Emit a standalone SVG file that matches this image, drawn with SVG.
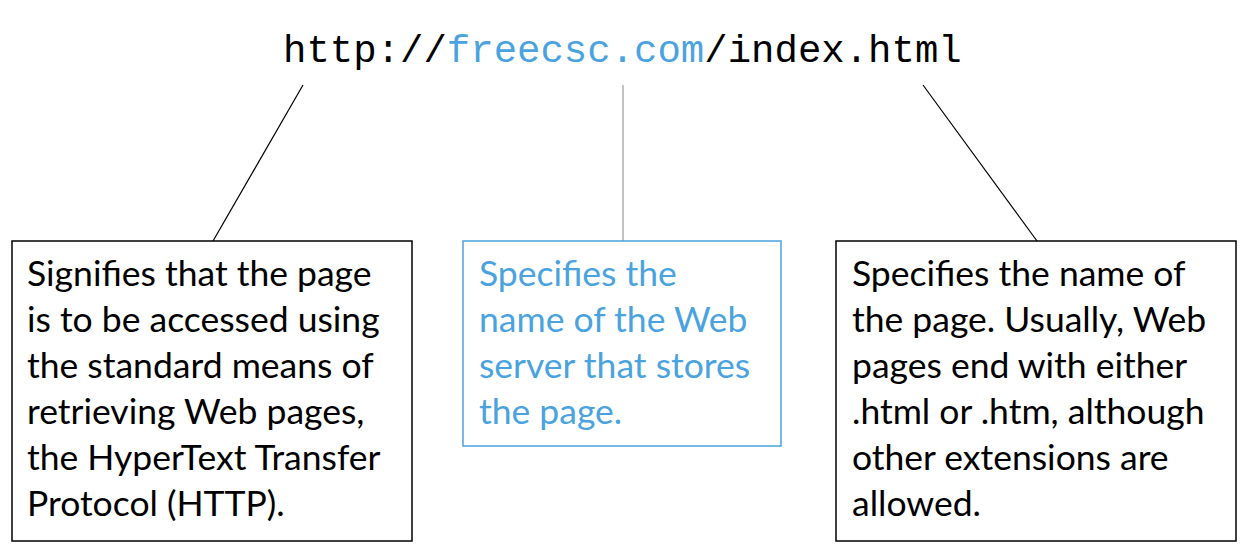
<svg xmlns="http://www.w3.org/2000/svg" width="1250" height="550" viewBox="0 0 1250 550">
<style>
.t{font-family:Lato,"Liberation Sans",sans-serif;font-size:35.5px;fill:#000}
.b{fill:#4AA3DF}
.box{fill:#fff;stroke:#000;stroke-width:1.5}
.url{font-family:"Liberation Mono",monospace;font-size:39px;fill:#000}
</style>
<rect width="1250" height="550" fill="#fff"/>
<g id="url"><text class="url" x="283" y="62">http://<tspan class="b">freecsc.com</tspan>/index.html</text></g>
<g id="connectors" stroke-width="1.2">
<line x1="303" y1="85" x2="213" y2="241" stroke="#000"/>
<line x1="623" y1="85" x2="623" y2="241" stroke="#999"/>
<line x1="923" y1="85" x2="1037" y2="241" stroke="#000"/>
</g>
<g id="protocol"><rect class="box" x="12" y="241" width="400" height="300"/>
<text class="t" x="27"><tspan x="27" y="286">Signifies that the page</tspan><tspan x="27" y="332">is to be accessed using</tspan><tspan x="27" y="378">the standard means of</tspan><tspan x="27" y="424">retrieving Web pages,</tspan><tspan x="27" y="470">the HyperText Transfer</tspan><tspan x="27" y="516">Protocol (HTTP).</tspan></text></g>
<g id="server"><rect class="box" x="463" y="241" width="318" height="205" style="stroke:#4AA3DF"/>
<text class="t b"><tspan x="479" y="286">Specifies the</tspan><tspan x="479" y="332">name of the Web</tspan><tspan x="479" y="378">server that stores</tspan><tspan x="479" y="424">the page.</tspan></text></g>
<g id="page"><rect class="box" x="836" y="241" width="400" height="300"/>
<text class="t"><tspan x="852" y="286">Specifies the name of</tspan><tspan x="852" y="332">the page. Usually, Web</tspan><tspan x="852" y="378">pages end with either</tspan><tspan x="852" y="424">.html or .htm, although</tspan><tspan x="852" y="470">other extensions are</tspan><tspan x="852" y="516">allowed.</tspan></text></g>
</svg>
